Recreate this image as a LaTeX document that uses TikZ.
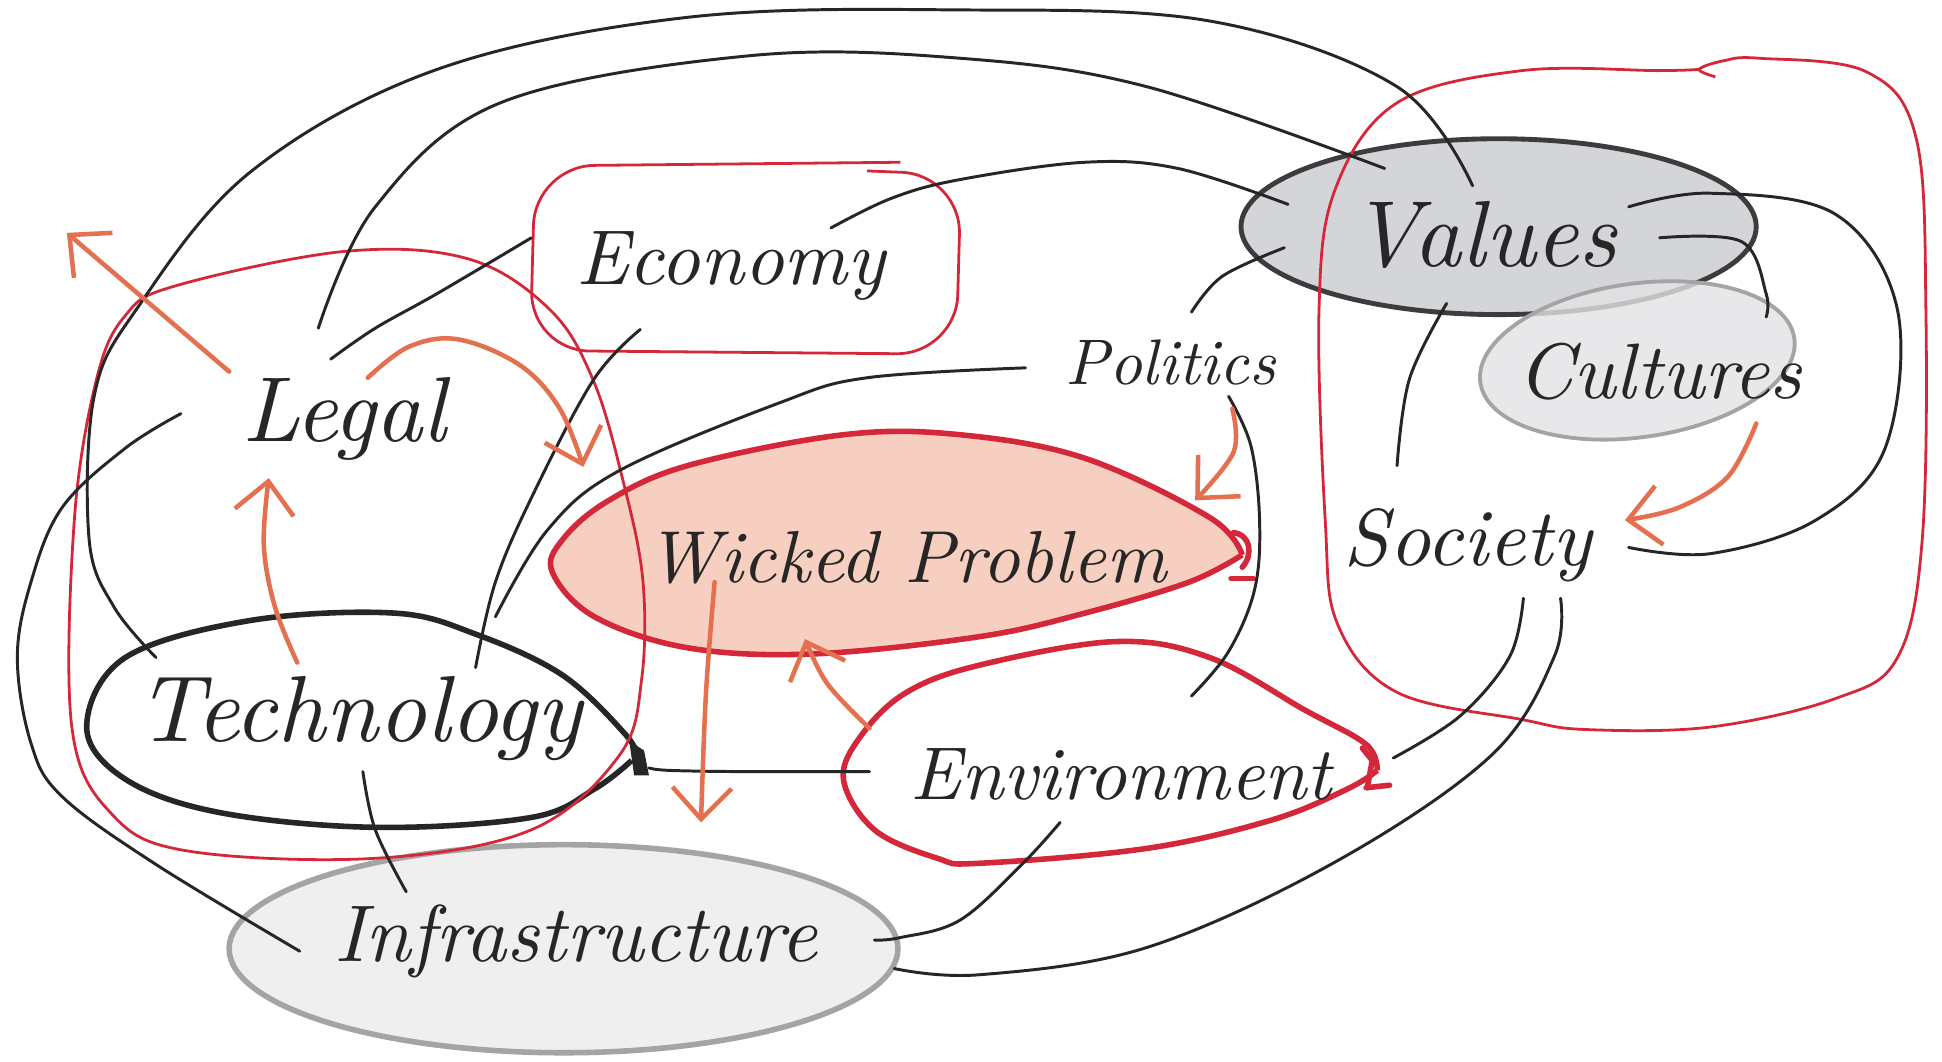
\documentclass[tikz,border=0pt]{standalone}
\usepackage{graphicx}
\usetikzlibrary{arrows.meta}
\definecolor{ink}{HTML}{262626}
\definecolor{redline}{HTML}{D4283A}
\definecolor{arr}{HTML}{E5704F}
\definecolor{wick}{HTML}{F7CFC1}
\definecolor{valfill}{HTML}{D4D5D9}
\definecolor{culfill}{HTML}{E3E3E5}
\definecolor{infill}{HTML}{EFEFEF}
\definecolor{grayline}{HTML}{A4A4A4}
\newcommand\hand[2]{\resizebox{#1}{!}{\itshape #2}}
\tikzset{
  conn/.style={draw=ink, line width=0.85pt, line cap=round},
  thinred/.style={draw=redline, line width=0.8pt},
  thickred/.style={draw=redline, line width=1.6pt},
  oarrow/.style={draw=arr, line width=1.3pt, line cap=round, -{Straight Barb[length=9pt,width=17pt]}},
  lbl/.style={inner sep=0pt, text=ink},
  sm/.style={smooth, tension=0.6},
}
\begin{document}
\begin{tikzpicture}[x=0.0125cm,y=-0.0125cm]
\useasboundingbox (0,0) rectangle (1568,857);
\fill[white] (0,0) rectangle (1568,857);

% ---- filled shapes ----
\path[fill=valfill, draw=ink!90, line width=1.4pt] (1210,183) ellipse [x radius=208, y radius=71];
\begin{scope}[shift={(1322,291)}, rotate=8]
  \path[fill=culfill, fill opacity=0.8, draw=grayline, line width=1.1pt] (0,0) ellipse [x radius=128, y radius=62];
\end{scope}
\path[fill=infill, draw=grayline, line width=1.6pt] (455,766) ellipse [x radius=270, y radius=84];

% Wicked Problem teardrop
\path[fill=wick, thickred] plot[sm] coordinates {(1003,448) (977,418) (876,370) (775,351) (681,351) (555,376) (490,405) (454,436) (446,462) (480,498) (555,523) (656,528) (791,514) (876,495) (960,470) (1003,448)};
\draw[thickred, line cap=round] (996,430) .. controls (1010,432) and (1012,448) .. (1003,458);
\draw[thickred, line cap=round] (994,467) -- (1012,467);

% Technology teardrop
\draw[ink, line width=1.6pt] plot[sm] coordinates {(516,614) (505,593) (454,545) (384,512) (318,495) (202,501) (101,531) (70,587) (101,629) (177,656) (303,668) (429,660) (480,637) (510,614)};
\fill[ink] (508,598) -- (520,606) -- (524,626) -- (512,626) -- cycle;

% Environment teardrop
\draw[thickred] plot[sm] coordinates {(1112,622) (1103,601) (1053,573) (977,531) (901,518) (791,537) (732,559) (696,593) (681,629) (706,670) (757,693) (791,697) (926,685) (1027,662) (1088,637) (1112,622)};
\draw[thickred, line cap=round] (1100,604) -- (1108,614) -- (1104,636);
\draw[thickred, line cap=round] (1103,636) -- (1122,634);

% ---- thin red outlines ----
\draw[thinred] plot[smooth cycle, tension=0.6] coordinates {(141,231) (278,203) (378,209) (444,250) (479,307) (503,388) (519,468) (518,549) (500,610) (429,670) (303,693) (151,687) (90,657) (58,587) (60,420) (78,306) (101,255)};
\draw[thinred, rounded corners=0.6cm] (727,131) -- (432,134) -- (428,283) -- (772,286) -- (776,141) -- (700,138);
\draw[thinred] plot[sm] coordinates {(1385,62) (1372,56) (1392,49) (1420,47) (1507,58) (1547,111) (1555,250) (1552,436) (1532,531) (1482,564) (1381,587) (1280,589) (1229,581) (1128,559) (1080,504) (1070,420) (1065,250) (1078,153) (1128,83) (1229,57) (1340,57) (1372,56)};

% ---- text nodes ----
\node[lbl] (legal) at (278,338) {\hand{2.06cm}{Legal}};
\node[lbl] (econ) at (590,215) {\hand{3.12cm}{Economy}};
\node[lbl] (values) at (1198,190) {\hand{2.69cm}{Values}};
\node[lbl] (politics) at (945,293) {\hand{2.12cm}{Politics}};
\node[lbl] (cultures) at (1340,300) {\hand{2.87cm}{Cultures}};
\node[lbl] (society) at (1185,440) {\hand{2.5cm}{Society}};
\node[lbl] (wicked) at (732,450) {\hand{5.25cm}{Wicked Problem}};
\node[lbl] (tech) at (290,580) {\hand{4.5cm}{Technology}};
\node[lbl] (env) at (905,625) {\hand{4.25cm}{Environment}};
\node[lbl] (infra) at (465,760) {\hand{4.87cm}{Infrastructure}};

% ---- connector end points ----
\coordinate (val-n) at (1189,150);
\coordinate (tech-nw) at (126,531);
\coordinate (legal-n) at (257,265);
\coordinate (val-nw) at (1118,136);
\coordinate (legal-ne) at (267,290);
\coordinate (econ-w) at (429,192);
\coordinate (econ-ne) at (671,184);
\coordinate (val-w) at (1040,165);
\coordinate (econ-s) at (517,266);
\coordinate (tech-n) at (384,539);
\coordinate (pol-w) at (828,297);
\coordinate (tech-ne) at (400,498);
\coordinate (pol-n) at (962,252);
\coordinate (val-sw) at (1037,200);
\coordinate (pol-se) at (992,320);
\coordinate (env-n) at (962,562);
\coordinate (val-s) at (1168,245);
\coordinate (soc-n) at (1128,376);
\coordinate (val-e) at (1340,192);
\coordinate (cul-ne) at (1426,256);
\coordinate (val-ne) at (1315,167);
\coordinate (soc-e) at (1315,442);
\coordinate (soc-s1) at (1230,483);
\coordinate (env-e) at (1125,612);
\coordinate (soc-s2) at (1260,483);
\coordinate (infra-e1) at (722,782);
\coordinate (env-s) at (856,664);
\coordinate (infra-e2) at (706,759);
\coordinate (env-w) at (702,623);
\coordinate (tech-e) at (524,620);
\coordinate (tech-s) at (293,623);
\coordinate (infra-n) at (328,720);
\coordinate (legal-w) at (146,334);
\coordinate (infra-w) at (242,768);

% ---- black connectors ----
\draw[conn] plot[sm] coordinates {(val-n) (1128,70) (977,17) (775,8) (555,14) (353,56) (202,139) (110,250) (76,320) (72,436) (92,490) (tech-nw)};
\draw[conn] plot[sm] coordinates {(legal-n) (303,167) (404,83) (605,45) (775,47) (926,70) (val-nw)};
\draw[conn] plot[sm] coordinates {(legal-ne) (303,265) (353,237) (econ-w)};
\draw[conn] plot[sm] coordinates {(econ-ne) (720,160) (775,145) (876,131) (951,136) (val-w)};
\draw[conn] plot[sm] coordinates {(econ-s) (479,307) (430,400) (400,470) (tech-n)};
\draw[conn] plot[sm] coordinates {(pol-w) (700,305) (630,325) (500,380) (442,428) (tech-ne)};
\draw[conn] plot[sm] coordinates {(pol-n) (987,223) (val-sw)};
\draw[conn] plot[sm] coordinates {(pol-se) (1010,360) (1017,420) (1013,476) (992,526) (env-n)};
\draw[conn] plot[sm] coordinates {(val-s) (1138,306) (soc-n)};
\draw[conn] plot[sm] coordinates {(val-e) (1406,195) (1426,237) (cul-ne)};
\draw[conn] plot[sm] coordinates {(val-ne) (1381,156) (1482,173) (1532,250) (1522,362) (1466,420) (1381,447) (soc-e)};
\draw[conn] plot[sm] coordinates {(soc-s1) (1219,530) (1179,578) (env-e)};
\draw[conn] plot[sm] coordinates {(soc-s2) (1255,530) (1204,610) (1078,696) (926,765) (791,787) (infra-e1)};
\draw[conn] plot[sm] coordinates {(env-s) (825,698) (775,743) (727,757) (infra-e2)};
\draw[conn] plot[sm] coordinates {(env-w) (600,623) (540,622) (tech-e)};
\draw[conn] plot[sm] coordinates {(tech-s) (303,670) (infra-n)};
\draw[conn] plot[sm] coordinates {(legal-w) (101,362) (50,410) (25,470) (14,531) (25,600) (50,643) (126,698) (infra-w)};

% ---- orange arrows ----
\coordinate (a1s) at (185,300);  \coordinate (a1e) at (54,188);
\coordinate (a2s) at (297,305);  \coordinate (a2e) at (471,377);
\coordinate (a3s) at (240,535);  \coordinate (a3e) at (217,386);
\coordinate (a4s) at (577,470);  \coordinate (a4e) at (566,664);
\coordinate (a5s) at (702,588);  \coordinate (a5e) at (650,516);
\coordinate (a6s) at (995,330);  \coordinate (a6e) at (965,404);
\coordinate (a7s) at (1418,342); \coordinate (a7e) at (1312,420);
\draw[oarrow] (a1s) -- (a1e);
\draw[oarrow] plot[sm] coordinates {(a2s) (330,280) (370,274) (420,295) (452,330) (a2e)};
\draw[oarrow] plot[sm] coordinates {(a3s) (222,490) (213,440) (a3e)};
\draw[oarrow] plot[sm] coordinates {(a4s) (570,560) (a4e)};
\draw[oarrow] plot[sm] coordinates {(a5s) (668,552) (a5e)};
\draw[oarrow] plot[sm] coordinates {(a6s) (996,365) (a6e)};
\draw[oarrow] plot[sm] coordinates {(a7s) (1395,385) (1355,410) (a7e)};
\end{tikzpicture}
\end{document}
